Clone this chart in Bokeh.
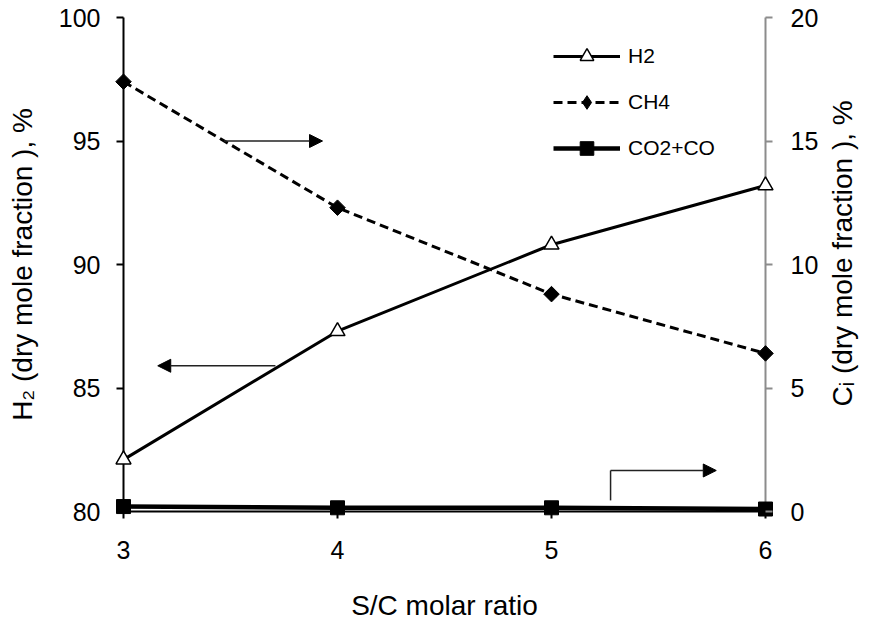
import numpy as np
from bokeh.plotting import figure
from bokeh.models import (Range1d, LinearAxis, Legend, LegendItem, Arrow,
                          NormalHead, FixedTicker, ColumnDataSource)
from bokeh.embed import file_html
from bokeh.resources import INLINE

# ---- data ----
sc_ratio = [3, 4, 5, 6]
h2_pct = [82.1, 87.3, 90.8, 93.2]          # left axis
ch4_pct = [17.4, 12.3, 8.8, 6.4]           # right axis
co2_co_pct = [0.2, 0.15, 0.15, 0.1]        # right axis
x_ticks = [3, 4, 5, 6]
left_ticks = [80, 85, 90, 95, 100]
right_ticks = [0, 5, 10, 15, 20]
X_LIM = (3, 6)
L_LIM = (80, 100)
R_LIM = (0, 20)
TITLE_X = "S/C molar ratio"
TITLE_L = "H\u2082 (dry mole fraction ), %"
TITLE_R = "C\u1D62 (dry mole fraction ), %"
TITLE_R_START = 4.25   # right-axis value where the upward-reading title starts

# annotation arrows (data coordinates)
arrow_ch4 = dict(x0=3.47, x1=3.93, y=95.0)           # left-axis units
arrow_h2 = dict(x0=3.71, x1=3.16, y=85.9)            # left-axis units
arrow_co = dict(x=5.276, x1=5.77, y0=0.45, y1=1.66)  # right-axis units

FONT = "Liberation Sans"

# frame is padded so that edge markers are not clipped
PAD = 9                      # px
AX_W, AX_H = 642, 494        # px between data limits
px_x = (X_LIM[1] - X_LIM[0]) * PAD / AX_W
px_l = (L_LIM[1] - L_LIM[0]) * PAD / AX_H
px_r = (R_LIM[1] - R_LIM[0]) * PAD / AX_H

p = figure(width=877, height=625, output_backend="svg", toolbar_location=None,
           x_range=Range1d(X_LIM[0] - px_x, X_LIM[1] + px_x),
           y_range=Range1d(L_LIM[0] - px_l, L_LIM[1] + px_l),
           min_border_left=123 - PAD, min_border_right=112 - PAD,
           min_border_top=17 - PAD, min_border_bottom=114 - PAD)
p.extra_y_ranges = {"right": Range1d(R_LIM[0] - px_r, R_LIM[1] + px_r)}
p.outline_line_color = None
p.xgrid.visible = False
p.ygrid.visible = False
p.background_fill_color = "white"
p.border_fill_color = "white"

src = ColumnDataSource(dict(x=sc_ratio, h2=h2_pct, ch4=ch4_pct, co=co2_co_pct))

# axes
xa = p.xaxis[0]
xa.ticker = FixedTicker(ticks=x_ticks)
xa.axis_label = TITLE_X
ya = p.yaxis[0]
ya.ticker = FixedTicker(ticks=left_ticks)
ya.axis_label = TITLE_L
ra = LinearAxis(y_range_name="right", ticker=FixedTicker(ticks=right_ticks))
p.add_layout(ra, "right")


def style_axis(ax):
    ax.axis_line_color = None
    ax.minor_tick_line_color = None
    ax.minor_tick_in = 0
    ax.minor_tick_out = -2
    ax.major_tick_in = PAD
    ax.major_tick_out = -2
    ax.major_tick_line_width = 2
    ax.major_tick_line_color = "black"
    ax.major_label_text_font = FONT
    ax.major_label_text_font_size = "25px"
    ax.major_label_text_color = "black"
    ax.axis_label_text_font = FONT
    ax.axis_label_text_font_size = "28px"
    ax.axis_label_text_font_style = "normal"
    ax.axis_label_text_color = "black"


for ax in (xa, ya, ra):
    style_axis(ax)
ra.major_tick_line_color = "#8c8c8c"
xa.major_label_standoff = 20
xa.axis_label_standoff = 28
ya.major_label_standoff = 14
ya.axis_label_standoff = 18
ra.major_label_standoff = 16

# right-hand title, reading bottom-to-top, carried by an outer tick-less axis
ta = LinearAxis(y_range_name="right", ticker=FixedTicker(ticks=[TITLE_R_START]),
                major_label_overrides={TITLE_R_START: TITLE_R},
                major_label_orientation=np.pi / 2)
style_axis(ta)
ta.major_tick_line_color = None
ta.major_tick_in = 0
ta.major_tick_out = 0
ta.major_label_text_font_size = "28px"
ta.major_label_standoff = 21
p.add_layout(ta, "right")

# axis lines at data limits
p.segment(x0=[X_LIM[0]], y0=[L_LIM[0]], x1=[X_LIM[1]], y1=[L_LIM[0]],
          line_color="black", line_width=2)
p.segment(x0=[X_LIM[0]], y0=[L_LIM[0]], x1=[X_LIM[0]], y1=[L_LIM[1]],
          line_color="black", line_width=2)
p.segment(x0=[X_LIM[1]], y0=[R_LIM[0]], x1=[X_LIM[1]], y1=[R_LIM[1]],
          y_range_name="right", line_color="#8c8c8c", line_width=2)

# series
co_line = p.line("x", "co", source=src, y_range_name="right",
                 line_color="black", line_width=4.5)
co_pts = p.scatter("x", "co", source=src, y_range_name="right",
                   marker="square", size=14, fill_color="black", line_color="black")
h2_line = p.line("x", "h2", source=src, line_color="black", line_width=3)
h2_pts = p.scatter("x", "h2", source=src, marker="triangle", size=15,
                   fill_color="white", line_color="black", line_width=1.5)
ch4_line = p.line("x", "ch4", source=src, y_range_name="right",
                  line_color="black", line_width=3, line_dash="9 5")
ch4_pts = p.scatter("x", "ch4", source=src, y_range_name="right",
                    marker="square", angle=np.pi / 4, size=11,
                    fill_color="black", line_color="black")
# legend-only diamond (no visible data point)
ch4_key = p.scatter(x=[np.nan], y=[np.nan], y_range_name="right",
                    marker="diamond", size=14, fill_color="black", line_color="black")

# arrows
def head():
    return NormalHead(size=13, fill_color="black", line_color="black")

p.add_layout(Arrow(end=head(), x_start=arrow_ch4["x0"], x_end=arrow_ch4["x1"],
                   y_start=arrow_ch4["y"], y_end=arrow_ch4["y"],
                   line_color="#222222", line_width=1.5))
p.add_layout(Arrow(end=head(), x_start=arrow_h2["x0"], x_end=arrow_h2["x1"],
                   y_start=arrow_h2["y"], y_end=arrow_h2["y"],
                   line_color="#222222", line_width=1.5))
p.line([arrow_co["x"], arrow_co["x"]], [arrow_co["y0"], arrow_co["y1"]],
       y_range_name="right", line_color="#222222", line_width=1.5)
p.add_layout(Arrow(end=head(), x_start=arrow_co["x"], x_end=arrow_co["x1"],
                   y_start=arrow_co["y1"], y_end=arrow_co["y1"],
                   y_range_name="right", line_color="#222222", line_width=1.5))

legend = Legend(items=[
    LegendItem(label="H2", renderers=[h2_line, h2_pts]),
    LegendItem(label="CH4", renderers=[ch4_line, ch4_key]),
    LegendItem(label="CO2+CO", renderers=[co_line, co_pts]),
], location=(430 + PAD, 346 + PAD), glyph_width=67, glyph_height=34,
   label_height=34, spacing=12, padding=0, margin=0, border_line_color=None,
   background_fill_alpha=0, label_standoff=8,
   label_text_font=FONT, label_text_font_size="21px", label_text_color="black")
p.add_layout(legend)

open("out.html", "w").write(file_html(p, INLINE))
